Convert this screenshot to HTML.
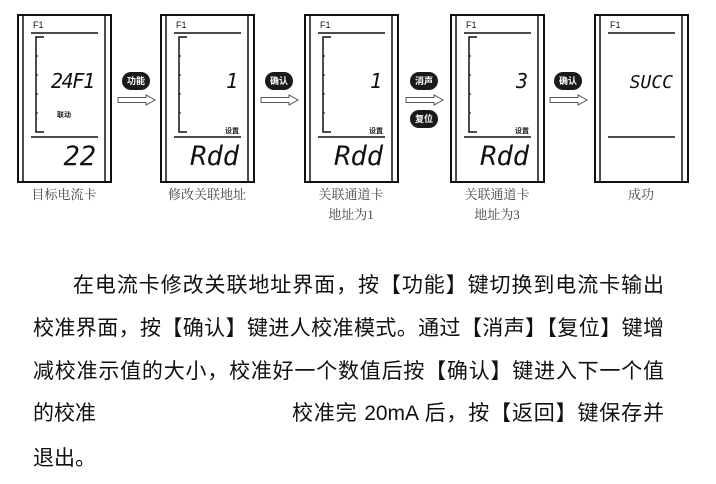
<!DOCTYPE html>
<html><head><meta charset="utf-8"><style>
body{margin:0;width:716px;height:484px;background:#fff;overflow:hidden;position:relative;font-family:"Liberation Sans","Noto Sans CJK SC",sans-serif}
.l{position:absolute;font-size:21px;color:#111;line-height:26px;white-space:nowrap;text-align:justify;text-align-last:justify}
svg{position:absolute;left:0;top:0}
</style></head><body>
<svg width="716" height="240" viewBox="0 0 716 240">
<defs>
<g id="pan">
<rect x="0" y="0" width="93" height="167" fill="#fff" stroke="#111" stroke-width="2"/>
<line x1="5" y1="0" x2="5" y2="167" stroke="#111" stroke-width="1.5"/>
<line x1="87" y1="0" x2="87" y2="167" stroke="#111" stroke-width="1.5"/>
<text x="15" y="13" font-size="9" font-family="Liberation Sans" fill="#111">F1</text>
<line x1="13" y1="18" x2="80" y2="18" stroke="#111" stroke-width="1.5"/>
<line x1="13" y1="122" x2="80" y2="122" stroke="#111" stroke-width="1.5"/>
</g>
<g id="br">
<path d="M26,22 H18 V117 H26" fill="none" stroke="#111" stroke-width="1.5"/>
<path d="M18,41h2M18,60h2M18,79h2M18,98h2" stroke="#111"/>
</g>
<g id="pill"><rect x="-14" y="-9" width="28" height="18" rx="9" fill="#1a1a1a"/></g>
<g id="arr"><path d="M0,-2.5 H28 V-5 L37,0 L28,5 V2.5 H0 Z" fill="#fff" stroke="#555" stroke-width="1"/></g>
</defs>
<g transform="translate(18,15)"><use href="#pan"/><use href="#br"/>
<text x="77" y="73" font-size="20" font-style="italic" text-anchor="end" font-family="DejaVu Sans Mono" fill="#111" textLength="44">24F1</text>
<text x="39" y="102" font-size="7" font-weight="bold" font-family="Noto Sans CJK SC" fill="#111">联动</text>
<text x="78" y="150" font-size="27" font-style="italic" text-anchor="end" font-family="DejaVu Sans Mono" fill="#111">22</text></g>
<g transform="translate(161,15)"><use href="#pan"/><use href="#br"/>
<text x="77" y="73" font-size="20" font-style="italic" text-anchor="end" font-family="DejaVu Sans Mono" fill="#111">1</text>
<text x="78" y="118" font-size="7" font-weight="bold" text-anchor="end" font-family="Noto Sans CJK SC" fill="#111">设置</text>
<text x="78" y="150" font-size="27" font-style="italic" text-anchor="end" font-family="DejaVu Sans Mono" fill="#111">Rdd</text></g>
<g transform="translate(305,15)"><use href="#pan"/><use href="#br"/>
<text x="77" y="73" font-size="20" font-style="italic" text-anchor="end" font-family="DejaVu Sans Mono" fill="#111">1</text>
<text x="78" y="118" font-size="7" font-weight="bold" text-anchor="end" font-family="Noto Sans CJK SC" fill="#111">设置</text>
<text x="78" y="150" font-size="27" font-style="italic" text-anchor="end" font-family="DejaVu Sans Mono" fill="#111">Rdd</text></g>
<g transform="translate(451,15)"><use href="#pan"/><use href="#br"/>
<text x="77" y="73" font-size="20" font-style="italic" text-anchor="end" font-family="DejaVu Sans Mono" fill="#111">3</text>
<text x="78" y="118" font-size="7" font-weight="bold" text-anchor="end" font-family="Noto Sans CJK SC" fill="#111">设置</text>
<text x="78" y="150" font-size="27" font-style="italic" text-anchor="end" font-family="DejaVu Sans Mono" fill="#111">Rdd</text></g>
<g transform="translate(595,15)"><use href="#pan"/>
<text x="78" y="73" font-size="18" font-style="italic" text-anchor="end" font-family="DejaVu Sans Mono" fill="#111">SUCC</text></g>
<g font-family="Noto Sans CJK SC" font-size="9" font-weight="bold" fill="#fff" text-anchor="middle">
<g transform="translate(136,81)"><use href="#pill"/><text y="3">功能</text></g>
<g transform="translate(279,81)"><use href="#pill"/><text y="3">确认</text></g>
<g transform="translate(424,81)"><use href="#pill"/><text y="3">消声</text></g>
<g transform="translate(424,119)"><use href="#pill"/><text y="3">复位</text></g>
<g transform="translate(568,81)"><use href="#pill"/><text y="3">确认</text></g>
</g>
<use href="#arr" x="118" y="100"/><use href="#arr" x="261" y="100"/><use href="#arr" x="406" y="100"/><use href="#arr" x="550" y="100"/>
<g font-family="Liberation Serif,Noto Serif CJK SC,serif" font-size="13" fill="#444" text-anchor="middle">
<text x="64" y="199">目标电流卡</text>
<text x="207" y="199">修改关联地址</text>
<text x="351" y="199">关联通道卡</text>
<text x="351" y="219">地址为1</text>
<text x="497" y="199">关联通道卡</text>
<text x="497" y="219">地址为3</text>
<text x="641" y="199">成功</text>
</g>
</svg>
<div class="l" style="left:73px;top:273px;width:591px">在电流卡修改关联地址界面，按【功能】键切换到电流卡输出</div>
<div class="l" style="left:33px;top:316px;width:631px">校准界面，按【确认】键进人校准模式。通过【消声】【复位】键增</div>
<div class="l" style="left:33px;top:359px;width:631px">减校准示值的大小，校准好一个数值后按【确认】键进入下一个值</div>
<div class="l" style="left:33px;top:401px;text-align:left;text-align-last:left">的校准</div>
<div class="l" style="left:292px;top:401px;width:372px">校准完 20mA 后，按【返回】键保存并</div>
<div class="l" style="left:33px;top:446px;text-align:left;text-align-last:left">退出。</div>
</body></html>
